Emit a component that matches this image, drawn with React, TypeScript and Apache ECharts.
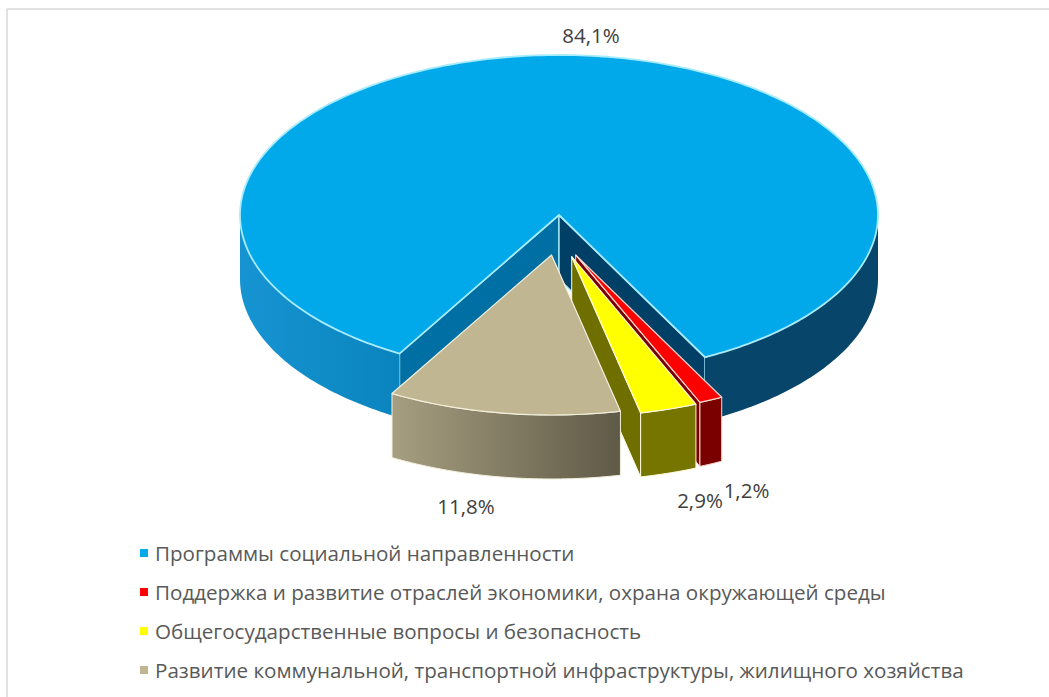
import React, { useEffect, useRef } from "react";
import * as echarts from "echarts";

const categories = [
  "Программы социальной направленности",
  "Поддержка и развитие отраслей экономики, охрана окружающей среды",
  "Общегосударственные вопросы и безопасность",
  "Развитие коммунальной, транспортной инфраструктуры, жилищного хозяйства",
];
const values = [84.1, 1.2, 2.9, 11.8];
const topColors = ["#02a9ea", "#ff0000", "#ffff00", "#c0b792"];

const FONT = "'Open Sans', sans-serif";
const CX = 559, CY = 215, RX = 319, RY = 160, DEPTH = 64, FIRST_ANGLE = 210;
const EXPLODE = [[0, 0], [16.7, 40], [12.7, 41.7], [-7.5, 40]];
const LABEL_POS = [[591, 35], [746.5, 490], [700, 500], [466, 506]];
const EDGE = ["#a8ebfb", "#f7d9d0", "#fffbe0", "#f4efdc"];

const total = values.reduce((a, b) => a + b, 0);
const startOf = (i: number) => FIRST_ANGLE + (values.slice(0, i).reduce((a, b) => a + b, 0) / total) * 360;

const pt = (cx: number, cy: number, deg: number, dy = 0) => {
  const r = (deg * Math.PI) / 180;
  return [cx + RX * Math.sin(r), cy - RY * Math.cos(r) + dy];
};
const arc = (cx: number, cy: number, a: number, b: number, dy = 0) => {
  const out: number[][] = [];
  const n = Math.max(2, Math.ceil(Math.abs(b - a)));
  for (let i = 0; i <= n; i++) out.push(pt(cx, cy, a + ((b - a) * i) / n, dy));
  return out;
};
const grad = (a: string, b: string) =>
  new echarts.graphic.LinearGradient(0, 0, 1, 0, [
    { offset: 0, color: a },
    { offset: 1, color: b },
  ]);
const poly = (points: number[][], fill: any, stroke = "none", lineWidth = 0) => ({
  type: "polygon",
  shape: { points },
  style: { fill, stroke, lineWidth, lineJoin: "round" },
});
const wall = (cx: number, cy: number, a: number, b: number, fill: any, stroke = "none", lw = 0) =>
  poly([...arc(cx, cy, a, b), ...arc(cx, cy, b, a, DEPTH)], fill, stroke, lw);
const face = (cx: number, cy: number, a: number, fill: any, stroke = "none", lw = 0) => {
  const p = pt(cx, cy, a);
  return poly([[cx, cy], p, [p[0], p[1] + DEPTH], [cx, cy + DEPTH]], fill, stroke, lw);
};

const makeRender = (i: number) => (_p: any, api: any) => {
  const v = api.value(0);
  const a = startOf(i);
  const b = a + (v / total) * 360;
  const cx = CX + EXPLODE[i][0];
  const cy = CY + EXPLODE[i][1];
  const children: any[] = [];
  const top = poly([[cx, cy], ...arc(cx, cy, a, b)], topColors[i], EDGE[i], i === 0 ? 1.8 : 1.2);
  if (i === 0) {
    children.push(face(cx, cy, a, "#006fa3", EDGE[0], 1.4));
    children.push(face(cx, cy, b - 360, "#003f66", EDGE[0], 1.4));
    children.push(wall(cx, cy, 90, b - 360, "#07456a"));
    children.push(wall(cx, cy, a, 270, grad("#1694d2", "#0a84bd")));
  } else if (i === 1) {
    children.push(face(cx, cy, b, "#7a0000", EDGE[1], 1));
    children.push(wall(cx, cy, a, b, "#7a0000", EDGE[1], 1));
  } else if (i === 2) {
    children.push(face(cx, cy, b, "#6f6f00", "#fffbe0", 1));
    children.push(wall(cx, cy, a, b, "#757500", "#fffbe0", 1));
  } else {
    children.push(wall(cx, cy, a, b, grad("#a69e80", "#5f5a47"), "#f4efdc", 1));
  }
  children.push(top);
  const [lx, ly] = LABEL_POS[i];
  children.push({
    type: "text",
    style: {
      text: v.toFixed(1).replace(".", ",") + "%",
      x: lx,
      y: ly,
      fill: "#404040",
      fontSize: 20.5,
      fontFamily: FONT,
      align: "center",
      verticalAlign: "middle",
    },
  });
  return { type: "group", children };
};

export default function App() {
  const ref = useRef<HTMLDivElement>(null);
  useEffect(() => {
    const chart = echarts.init(ref.current!, null, { renderer: "svg" });
    chart.setOption({
      animation: false,
      backgroundColor: "#ffffff",
      graphic: [
        { type: "line", shape: { x1: 7, y1: 9, x2: 1049, y2: 9 }, style: { stroke: "#d9d9d9", lineWidth: 1.5 } },
        { type: "line", shape: { x1: 7, y1: 9, x2: 7, y2: 697 }, style: { stroke: "#d9d9d9", lineWidth: 1.5 } },
      ],
      legend: {
        orient: "vertical",
        left: 140,
        top: 540,
        padding: 0,
        icon: "rect",
        itemWidth: 8,
        itemHeight: 8,
        itemGap: 13,
        selectedMode: false,
        data: categories,
        textStyle: { color: "#595959", fontSize: 20.6, fontFamily: FONT, lineHeight: 26, padding: [0, 0, 0, 2] },
      },
      series: categories.map((name, i) => ({
        type: "custom",
        name,
        coordinateSystem: "none",
        silent: true,
        itemStyle: { color: topColors[i] },
        data: [[values[i]]],
        renderItem: makeRender(i),
      })),
    });
    return () => chart.dispose();
  }, []);
  return <div ref={ref} style={{ position: "absolute", left: 0, top: 0, width: 1049, height: 697 }} />;
}
